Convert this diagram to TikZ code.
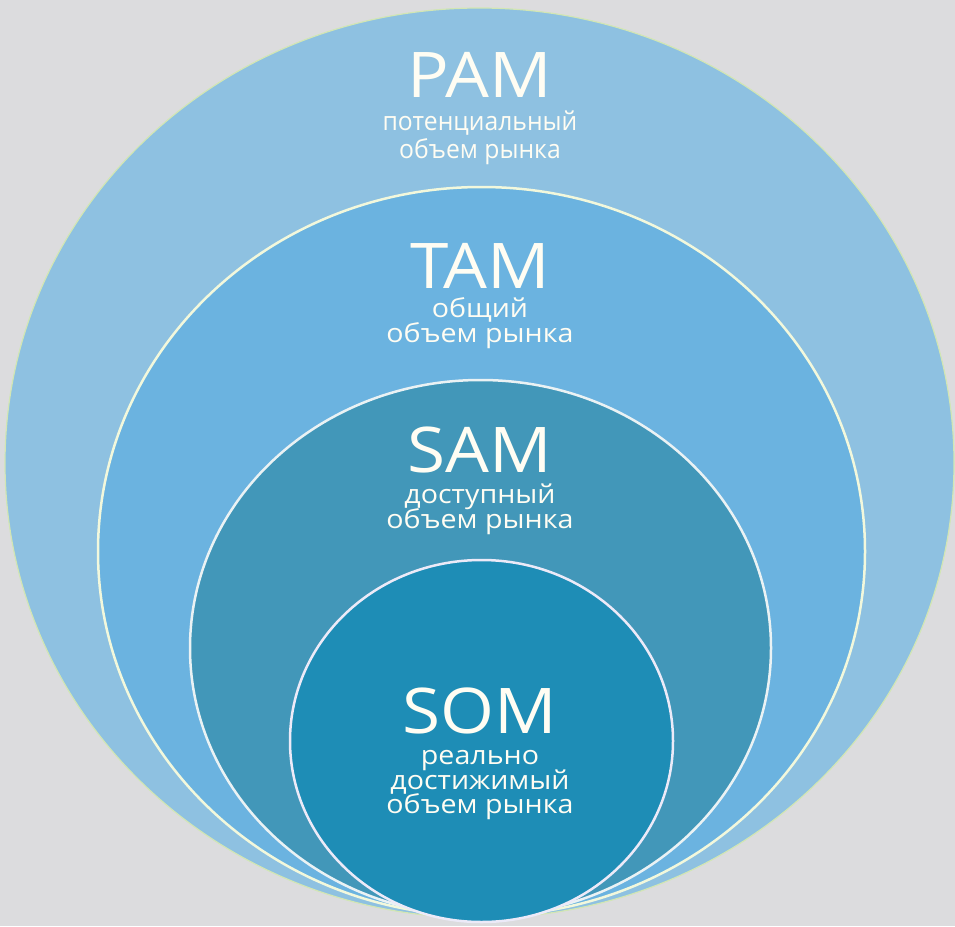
\documentclass[tikz,border=0pt]{standalone}
\usepackage{fontspec}
\setmainfont{Open Sans}[FakeStretch=1.1]
\newfontfamily\condfont{Open Sans}[FakeStretch=0.95]
\usetikzlibrary{shapes.geometric}
\definecolor{bgc}{HTML}{DCDCDE}
\definecolor{pamc}{HTML}{8EC1E1}
\definecolor{tamc}{HTML}{6BB3E0}
\definecolor{samc}{HTML}{4297B9}
\definecolor{somc}{HTML}{1E8DB6}
\definecolor{pamline}{HTML}{D2E6B4}
\definecolor{tamline}{HTML}{F2F8DC}
\definecolor{samline}{HTML}{EAF2F4}
\definecolor{somline}{HTML}{ECEAF8}
\definecolor{labelc}{HTML}{FFFDF3}
\begin{document}
\begin{tikzpicture}[x=1pt,y=-1pt,
  zone/.style={ellipse, inner sep=0pt, outer sep=0pt},
  big/.style={text=labelc, font=\fontsize{63}{63}\selectfont, anchor=base, inner sep=0pt, text depth=0pt},
  small/.style={text=labelc, font=\fontsize{26}{26}\selectfont, anchor=base, inner sep=0pt, text height=17pt},
  smallc/.style={text=labelc, font=\condfont\fontsize{26}{26}\selectfont, anchor=base, inner sep=0pt, text height=17pt}]
\fill[bgc] (0,0) rectangle (955,926);
\useasboundingbox (0,0) rectangle (955,926);
\node[zone, fill=pamc, draw=pamline, line width=1.2pt, minimum width=949pt, minimum height=910pt] (pam) at (479.5,463) {};
\node[zone, fill=tamc, draw=tamline, line width=2.5pt, minimum width=767pt, minimum height=729pt] (tam) at (481.5,551.5) {};
\node[zone, fill=samc, draw=samline, line width=2.5pt, minimum width=581pt, minimum height=536pt] (sam) at (480.5,648) {};
\node[zone, fill=somc, draw=somline, line width=2.5pt, minimum width=383pt, minimum height=362pt] (som) at (481.5,741) {};
% PAM
\node[big] (pamt) at (480,97) {PAM};
\node[smallc] (pam1) at (480,130) {потенциальный};
\node[smallc] (pam2) at (480,158) {объем рынка};
% TAM
\node[big] (tamt) at (480,288) {TAM};
\node[small] (tam1) at (480,317) {общий};
\node[small] (tam2) at (480,342) {объем рынка};
% SAM
\node[big] (samt) at (480,472) {SAM};
\node[small] (sam1) at (480,503) {доступный};
\node[small] (sam2) at (480,528) {объем рынка};
% SOM
\node[big] (somt) at (480,733) {SOM};
\node[small] (som1) at (480,764) {реально};
\node[small] (som2) at (480,789) {достижимый};
\node[small] (som3) at (480,813) {объем рынка};
\end{tikzpicture}
\end{document}
